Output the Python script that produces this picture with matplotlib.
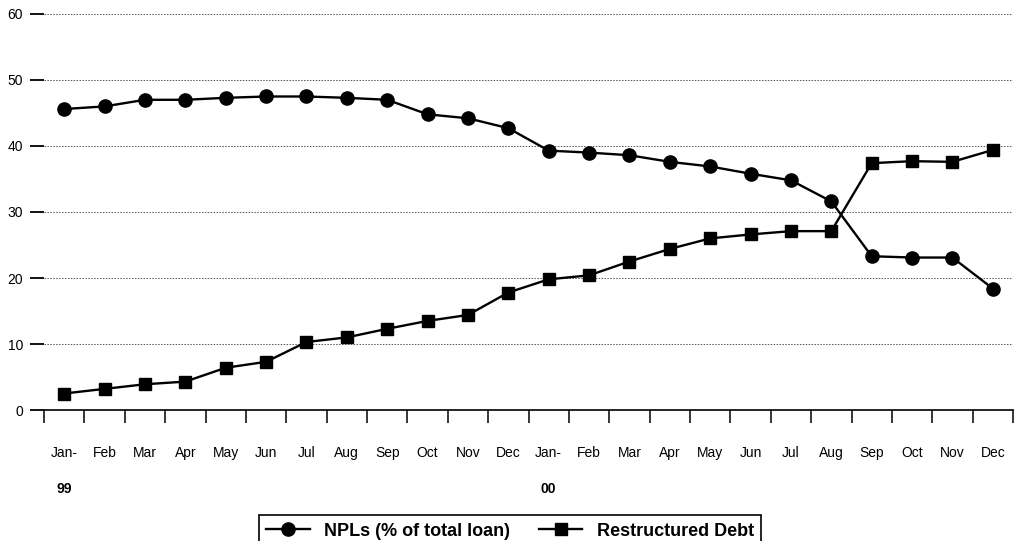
import numpy as np
import matplotlib.pyplot as plt

plt.rcParams['font.family'] = ['Liberation Sans', 'DejaVu Sans']

# monthly categories, Jan 1999 - Dec 2000
months = ['Jan-', 'Feb', 'Mar', 'Apr', 'May', 'Jun', 'Jul', 'Aug', 'Sep', 'Oct', 'Nov', 'Dec',
          'Jan-', 'Feb', 'Mar', 'Apr', 'May', 'Jun', 'Jul', 'Aug', 'Sep', 'Oct', 'Nov', 'Dec']
years = {0: '99', 12: '00'}

npl = [45.6, 46.0, 47.0, 47.0, 47.3, 47.5, 47.5, 47.3, 47.0, 44.8, 44.2, 42.7,
       39.3, 39.0, 38.6, 37.6, 36.9, 35.8, 34.8, 31.6, 23.3, 23.1, 23.1, 18.4]
restructured = [2.5, 3.2, 3.9, 4.3, 6.4, 7.3, 10.3, 11.0, 12.3, 13.5, 14.4, 17.8,
                19.8, 20.4, 22.5, 24.4, 26.0, 26.6, 27.1, 27.1, 37.4, 37.7, 37.6, 39.4]

x = np.arange(len(months))

fig = plt.figure(figsize=(10.24, 5.41), dpi=100)
ax = fig.add_axes([44/1024, 131/541, (1013-44)/1024, (410-14)/541])

ax.plot(x, npl, color='black', lw=1.7, marker='o', ms=9.5, label='NPLs (% of total loan)')
ax.plot(x, restructured, color='black', lw=1.7, marker='s', ms=9, label='Restructured Debt')

ax.set_xlim(-0.5, 23.5)
ax.set_ylim(0, 60)
ax.set_yticks(np.arange(0, 61, 10))
ax.yaxis.grid(True, linestyle=(0, (1.5, 1.5)), color='#555555', lw=0.7)
ax.set_axisbelow(True)

for s in ['top', 'right', 'left']:
    ax.spines[s].set_visible(False)
ax.spines['bottom'].set_linewidth(1.2)
ax.tick_params(axis='y', length=10, width=1.3, pad=5, labelsize=10)

# boundary ticks between months, labels in the middle
ax.set_xticks(np.arange(-0.5, 24, 1))
ax.set_xticklabels([])
ax.tick_params(axis='x', which='major', direction='out', length=9, width=1.1)
ax.set_xticks(x, minor=True)
ax.set_xticklabels(months, minor=True, fontsize=10)
ax.tick_params(axis='x', which='minor', length=0, pad=34)
for lab in ax.get_xticklabels(minor=True):
    lab.set_verticalalignment('baseline')

for i, yr in years.items():
    ax.text(i, -12.0, yr, ha='center', va='center', fontsize=10, fontweight='bold')

leg = fig.legend(loc='upper center', bbox_to_anchor=(0.498, 0.064), ncol=2,
                 frameon=True, fancybox=False, edgecolor='black', framealpha=1,
                 prop={'weight': 'bold', 'size': 13}, handlelength=2.4,
                 columnspacing=1.6, borderpad=0.4)
leg.get_frame().set_linewidth(1.2)

fig.savefig('out.png', dpi=100)
